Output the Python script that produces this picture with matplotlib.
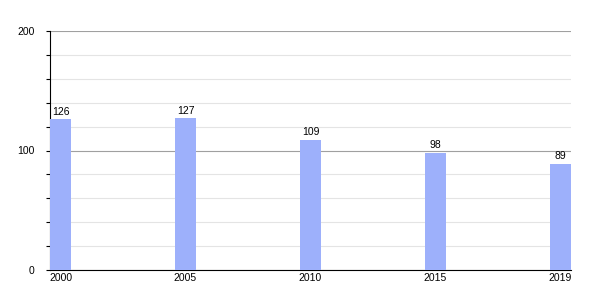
import matplotlib
matplotlib.use("Agg")
import matplotlib.pyplot as plt
import numpy as np

years = ["2000", "2005", "2010", "2015", "2019"]
values = [126, 127, 109, 98, 89]

plt.rcParams['font.family'] = ['Liberation Sans', 'DejaVu Sans']

fig = plt.figure(figsize=(6, 3), dpi=100)
ax = fig.add_axes([50/600, 30/300, 521/600, 239/300])

w = 0.168
x = np.arange(len(years))
bars = ax.bar(x, values, width=w, align='edge', color='#9db0fb', zorder=3)
for xi, v in zip(x, values):
    ax.text(xi + w/2, v + 2, str(v), ha='center', va='bottom', fontsize=7.5, zorder=4)

ax.set_xlim(0, len(years) - 1 + w)
ax.set_ylim(0, 200)
ax.set_xticks(x + w/2)
ax.set_xticklabels(years, fontsize=7.5)
ax.tick_params(axis='x', length=0, pad=2)
ax.set_yticks([0, 100, 200])
ax.set_yticks(np.arange(20, 200, 20), minor=True)
ax.tick_params(axis='y', which='both', direction='out', length=3, width=0.8, labelsize=7.5, pad=8)
ax.grid(axis='y', which='major', color='#a0a0a0', linewidth=0.8, zorder=0)
ax.grid(axis='y', which='minor', color='#e4e4e4', linewidth=0.8, zorder=0)
for s in ['top', 'right']:
    ax.spines[s].set_visible(False)
ax.spines['left'].set_linewidth(0.8)
ax.spines['bottom'].set_linewidth(0.8)

fig.savefig("out.png", dpi=100)
